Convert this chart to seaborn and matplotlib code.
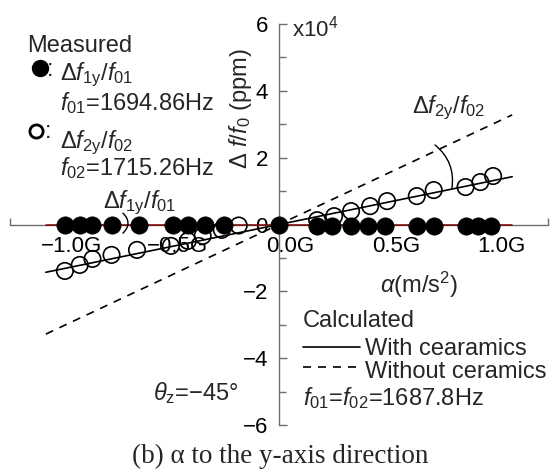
import matplotlib
matplotlib.use("Agg")
import numpy as np
import pandas as pd
import seaborn as sns
import matplotlib.pyplot as plt
from matplotlib.lines import Line2D
from matplotlib.transforms import ScaledTranslation

# ---------------- data (alpha in G, frequency shift in x1e4 ppm) ----------------
f1_alpha = [-1.01, -0.94, -0.88, -0.79, -0.66, -0.50, -0.43, -0.35, -0.26, 0.00,
            0.18, 0.25, 0.34, 0.42, 0.50, 0.65, 0.73, 0.88, 0.94, 1.00]
f1_shift = [0.00, 0.00, 0.00, 0.00, -0.02, 0.00, 0.00, 0.00, 0.00, 0.00,
            -0.03, -0.03, -0.03, -0.03, -0.03, -0.03, -0.03, -0.03, -0.03, -0.03]

f2_alpha = [-1.01, -0.94, -0.88, -0.79, -0.67, -0.51, -0.43, -0.36, -0.27, -0.19,
            0.18, 0.26, 0.34, 0.43, 0.51, 0.65, 0.73, 0.88, 0.95, 1.01]
f2_shift = [-1.39, -1.21, -1.03, -0.91, -0.76, -0.64, -0.49, -0.34, -0.16, -0.03,
            0.13, 0.25, 0.40, 0.55, 0.70, 0.85, 1.03, 1.12, 1.27, 1.45]

calc_alpha = [-1.10, 1.10]
calc_f1_with = [0.0, 0.0]
calc_f2_with = [-1.43, 1.43]
calc_f2_without = [-3.28, 3.28]

x_tick_vals = [-1.0, -0.5, 0.0, 0.5, 1.0]
x_tick_labels = ["\u22121.0G", "\u22120.5G", "0.0G", "0.5G", "1.0G"]
y_tick_vals = [-6, -4, -2, 0, 2, 4, 6]
y_minor_vals = [-5, -3, -1, 1, 3, 5]

meas1 = pd.DataFrame({"alpha": f1_alpha, "shift": f1_shift})
meas2 = pd.DataFrame({"alpha": f2_alpha, "shift": f2_shift})
calc = pd.DataFrame({"alpha": calc_alpha, "f1_with": calc_f1_with,
                     "f2_with": calc_f2_with, "f2_without": calc_f2_without})

# ---------------- style ----------------
sns.set_style("white")
plt.rcParams["font.family"] = ["Liberation Sans", "DejaVu Sans"]
plt.rcParams["mathtext.fontset"] = "custom"
plt.rcParams["mathtext.rm"] = "Liberation Sans"
plt.rcParams["mathtext.it"] = "Liberation Sans:italic"
plt.rcParams["mathtext.bf"] = "Liberation Sans:bold"
plt.rcParams["mathtext.sf"] = "Liberation Sans"
plt.rcParams["axes.unicode_minus"] = True

W, H = 560, 474
fig = plt.figure(figsize=(W / 100, H / 100), dpi=100)
fig.patch.set_facecolor("white")


def fx(px):
    return px / W


def fy(py):
    return 1 - py / H


ax = fig.add_axes([fx(10), fy(425), 538 / W, 401 / H])
ax.set_facecolor("none")

gray = "#6e6e6e"

# calculated lines
sns.lineplot(data=calc, x="alpha", y="f2_without", color="black", lw=1.2,
             linestyle=(0, (4.8, 4.2)), ax=ax, zorder=2)
sns.lineplot(data=calc, x="alpha", y="f2_with", color="black", lw=1.2, ax=ax, zorder=2)
sns.lineplot(data=calc, x="alpha", y="f1_with", color="#7a0000", lw=1.1, ax=ax, zorder=3)

# measured points
sns.scatterplot(data=meas2, x="alpha", y="shift", s=140, facecolor="none",
                edgecolor="black", linewidth=1.2, ax=ax, zorder=4)
ax.collections[-1].set_facecolor("none")
sns.scatterplot(data=meas1, x="alpha", y="shift", s=155, color="black",
                edgecolor="black", linewidth=0.5, ax=ax, zorder=5)

ax.set_xlabel("")
ax.set_ylabel("")

xlim = 1.269
ax.set_xlim(-xlim, xlim)
ax.set_ylim(-6, 6)

for side in ["top", "right"]:
    ax.spines[side].set_visible(False)
ax.spines["left"].set_position(("data", 0))
ax.spines["bottom"].set_position(("data", 0))
for side in ["left", "bottom"]:
    ax.spines[side].set_color(gray)
    ax.spines[side].set_linewidth(1.0)

ax.set_yticks(y_tick_vals)
ax.set_yticklabels([f"{v}".replace("-", "\u2212") for v in y_tick_vals])
ax.set_yticks(y_minor_vals, minor=True)
ax.tick_params(axis="y", which="both", left=True, right=False)
ax.tick_params(axis="y", which="major", direction="in", length=6, width=1,
               color=gray, pad=8, labelsize=16, labelcolor="black")
ax.tick_params(axis="y", which="minor", direction="in", length=5, width=1, color=gray)

ax.set_xticks(x_tick_vals)
ax.set_xticklabels(x_tick_labels)
ax.set_xticks([-xlim, xlim], minor=True)
ax.tick_params(axis="x", which="both", bottom=True, top=False)
ax.tick_params(axis="x", which="major", length=0, pad=8.5, labelsize=16, labelcolor="black")
ax.tick_params(axis="x", which="minor", direction="in", length=5, width=1, color=gray)
shift = ScaledTranslation(35 / 100, 0, fig.dpi_scale_trans)
for lab in ax.get_xticklabels():
    lab.set_horizontalalignment("right")
    lab.set_transform(lab.get_transform() + shift)

# bracket between the f2y lines
ax.annotate("", xy=(0.816, 1.09), xytext=(0.736, 2.38),
            arrowprops=dict(arrowstyle="-", connectionstyle="arc3,rad=-0.28",
                            lw=1.0, color="black", shrinkA=0, shrinkB=0))
# small bracket for f1y
ax.annotate("", xy=(-0.736, -0.26), xytext=(-0.736, 0.34),
            arrowprops=dict(arrowstyle="-", connectionstyle="arc3,rad=-0.5",
                            lw=1.0, color="black", shrinkA=0, shrinkB=0))

# ---------------- texts ----------------
fs = 17
fig.text(fx(292), fy(37), r"x10$^{4}$", va="baseline", ha="left", size=16)
fig.text(fx(240), fy(109), r"$\Delta$ $f$/$f_{0}$ (ppm)", rotation=90,
         ha="center", va="center", size=17)
fig.text(fx(380), fy(293), r"$\alpha$(m/s$^{2}$)", ha="left", va="baseline", size=17)

fig.text(fx(27), fy(52), "Measured", ha="left", va="baseline", size=fs)
fig.add_artist(Line2D([fx(40)], [fy(68)], marker="o", ms=11.5, color="black",
                      transform=fig.transFigure))
fig.text(fx(47), fy(76), r":", ha="left", va="baseline", size=fs)
fig.text(fx(60), fy(80), r"$\Delta f_{\mathrm{1y}}/f_{\mathrm{01}}$", ha="left", va="baseline", size=fs)
fig.text(fx(60), fy(110), r"$f_{\mathrm{01}}$=1694.86Hz", ha="left", va="baseline", size=fs)
fig.add_artist(Line2D([fx(36)], [fy(131)], marker="o", ms=9.5, mfc="none", mec="black",
                      mew=2.0, transform=fig.transFigure))
fig.text(fx(45), fy(138), r":", ha="left", va="baseline", size=fs)
fig.text(fx(60), fy(148), r"$\Delta f_{\mathrm{2y}}/f_{\mathrm{02}}$", ha="left", va="baseline", size=fs)
fig.text(fx(60), fy(175), r"$f_{\mathrm{02}}$=1715.26Hz", ha="left", va="baseline", size=fs)

fig.text(fx(412), fy(113), r"$\Delta f_{\mathrm{2y}}/f_{\mathrm{02}}$", ha="left", va="baseline", size=fs)
fig.text(fx(103), fy(208), r"$\Delta f_{\mathrm{1y}}/f_{\mathrm{01}}$", ha="left", va="baseline", size=fs)

fig.text(fx(303), fy(327), "Calculated", ha="left", va="baseline", size=fs)
fig.add_artist(Line2D([fx(303), fx(360)], [fy(347), fy(347)], color="black", lw=1.2,
                      transform=fig.transFigure))
fig.text(fx(365), fy(355), "With cearamics", ha="left", va="baseline", size=fs)
fig.add_artist(Line2D([fx(303), fx(357)], [fy(367), fy(367)], color="black", lw=1.2,
                      linestyle=(0, (4.8, 4.2)), transform=fig.transFigure))
fig.text(fx(365), fy(378), "Without ceramics", ha="left", va="baseline", size=fs)
fig.text(fx(303), fy(405), r"$f_{\mathrm{01}}$=$f_{\mathrm{02}}$=1687.8Hz", ha="left", va="baseline", size=fs)

fig.text(fx(153), fy(400), r"$\theta_{\mathrm{z}}$=" + "\u221245\u00b0",
         ha="left", va="baseline", size=fs)

fig.text(0.5, fy(463), "(b) \u03b1 to the y-axis direction", ha="center", va="baseline",
         family="Liberation Serif", size=19.5)

fig.savefig("out.png", dpi=100, facecolor="white")
